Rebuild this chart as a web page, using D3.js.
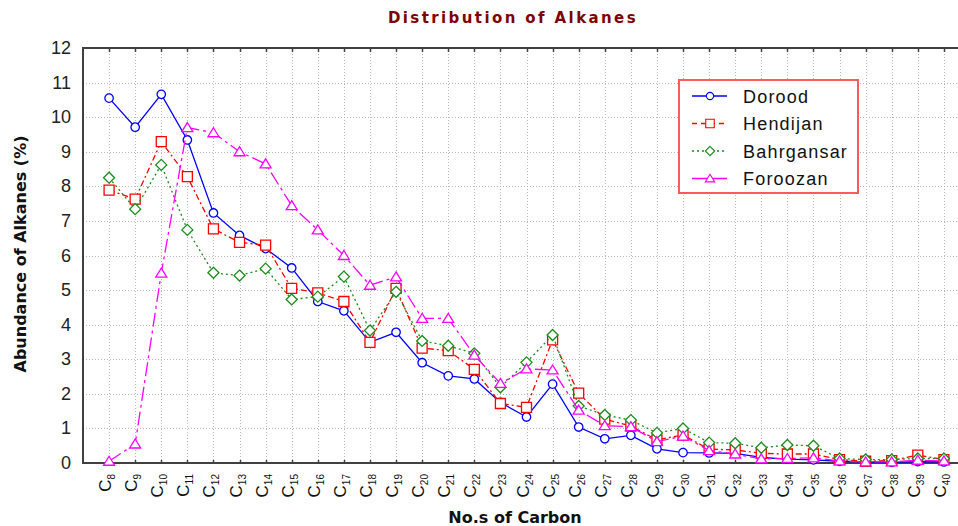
<!DOCTYPE html>
<html>
<head>
<meta charset="utf-8">
<script src="https://cdn.jsdelivr.net/npm/d3@7"></script>
<style>
  body { margin: 0; background: #fff; }
  svg { display: block; }
</style>
</head>
<body>
<div id="chart"></div>
<script>

    var carbons = [8,9,10,11,12,13,14,15,16,17,18,19,20,21,22,23,24,25,26,27,28,29,30,31,32,33,34,35,36,37,38,39,40];

    var dorood = [10.55,9.71,10.66,9.34,7.23,6.58,6.2,5.64,4.67,4.4,3.49,3.78,2.9,2.52,2.43,1.75,1.33,2.28,1.04,0.7,0.8,0.41,0.3,0.29,0.28,0.16,0.11,0.09,0.05,0.03,0.02,0.04,0.03];
    var hendijan = [7.89,7.63,9.29,8.28,6.77,6.38,6.3,5.05,4.92,4.67,3.49,5.05,3.32,3.25,2.71,1.72,1.61,3.56,2.02,1.27,1.07,0.67,0.81,0.4,0.38,0.28,0.26,0.26,0.1,0.05,0.07,0.23,0.1];
    var bahrgansar = [8.25,7.34,8.62,6.74,5.5,5.42,5.62,4.73,4.81,5.39,3.83,4.95,3.53,3.39,3.17,2.19,2.91,3.7,1.65,1.39,1.24,0.87,1.0,0.59,0.57,0.44,0.52,0.5,0.13,0.1,0.1,0.13,0.13];
    var foroozan = [0.05,0.55,5.49,9.7,9.55,9.0,8.65,7.44,6.74,6.0,5.14,5.38,4.18,4.18,3.12,2.3,2.72,2.69,1.53,1.08,1.05,0.62,0.78,0.36,0.26,0.12,0.13,0.15,0.06,0.03,0.03,0.08,0.06];

    var seriesNames = ["Dorood", "Hendijan", "Bahrgansar", "Foroozan"];
    var yTicks = [0,1,2,3,4,5,6,7,8,9,10,11,12];

    //=========================================================================
    // Set Dimensions
    //=========================================================================
    var width = 958, height = 526;
    var margin = { top: 48, left: 83, bottom: 63 };
    var plotBottom = height - margin.bottom;
    var plotRight = 970;

    var svg = d3.select("#chart")
      .append("svg")
      .attr("width", width)
      .attr("height", height)
      .style("font-family", "'Liberation Sans', Arial, sans-serif");

    svg.append("rect").attr("width", width).attr("height", height).attr("fill", "#fff");

    var x = d3.scalePoint()
      .domain(carbons)
      .range([margin.left, plotRight])
      .padding(1);

    var y = d3.scaleLinear()
      .domain([0, 12])
      .range([plotBottom, margin.top]);

    //=========================================================================
    // Grid
    //=========================================================================
    var grid = svg.append("g").attr("stroke", "#b8b8b8").attr("stroke-dasharray", "1,2");

    grid.selectAll(".hgrid")
      .data(yTicks.slice(1, -1))
      .enter().append("line")
      .attr("x1", margin.left).attr("x2", width)
      .attr("y1", function(d){ return Math.round(y(d)) + 0.5; })
      .attr("y2", function(d){ return Math.round(y(d)) + 0.5; });

    grid.selectAll(".vgrid")
      .data(carbons)
      .enter().append("line")
      .attr("x1", function(d){ return Math.round(x(d)) + 0.5; })
      .attr("x2", function(d){ return Math.round(x(d)) + 0.5; })
      .attr("y1", margin.top).attr("y2", plotBottom);

    //=========================================================================
    // Frame + ticks
    //=========================================================================
    var frame = svg.append("g").attr("stroke", "#404040").attr("stroke-width", 2);
    frame.append("line").attr("x1", margin.left).attr("x2", width).attr("y1", margin.top).attr("y2", margin.top);
    frame.append("line").attr("x1", margin.left).attr("x2", width).attr("y1", plotBottom).attr("y2", plotBottom);
    frame.append("line").attr("x1", margin.left).attr("x2", margin.left).attr("y1", margin.top - 1).attr("y2", plotBottom + 1);

    svg.append("g").attr("stroke", "#404040").attr("stroke-width", 1.5)
      .selectAll("line")
      .data(carbons)
      .enter().append("line")
      .attr("x1", function(d){ return Math.round(x(d)) + 0.5; })
      .attr("x2", function(d){ return Math.round(x(d)) + 0.5; })
      .attr("y1", margin.top).attr("y2", margin.top + 4);

    svg.append("g").attr("stroke", "#404040").attr("stroke-width", 1.5)
      .selectAll("line")
      .data(carbons)
      .enter().append("line")
      .attr("x1", function(d){ return Math.round(x(d)) + 0.5; })
      .attr("x2", function(d){ return Math.round(x(d)) + 0.5; })
      .attr("y1", plotBottom).attr("y2", plotBottom - 3);

    // y tick labels
    svg.append("g")
      .selectAll("text")
      .data(yTicks)
      .enter().append("text")
      .attr("x", 71)
      .attr("y", function(d){ return y(d) + 6; })
      .attr("text-anchor", "end")
      .attr("font-size", 18)
      .attr("fill", "#222")
      .text(function(d){ return d; });

    // x tick labels (C with subscript)
    var xl = svg.append("g")
      .selectAll("text")
      .data(carbons)
      .enter().append("text")
      .attr("transform", function(d){ return "translate(" + (x(d) + 2) + "," + (plotBottom + 11) + ") rotate(-90)"; })
      .attr("text-anchor", "end")
      .attr("font-size", 17)
      .attr("fill", "#111");
    xl.append("tspan").text("C");
    xl.append("tspan")
      .attr("font-size", 10)
      .attr("dy", 4)
      .text(function(d){ return d; });

    //=========================================================================
    // Series
    //=========================================================================
    var series = [
      { name: seriesNames[0], values: dorood, color: "#0000ff", dash: null, shape: "circle" },
      { name: seriesNames[1], values: hendijan, color: "#ff0000", dash: "6,3,2,3", shape: "square" },
      { name: seriesNames[2], values: bahrgansar, color: "#1a8c1a", dash: "2,3", shape: "diamond" },
      { name: seriesNames[3], values: foroozan, color: "#ff00ff", dash: "14,4,3,4", shape: "triangle" }
    ];

    function markerPath(shape) {
      if (shape == "circle") return d3.symbol().type(d3.symbolCircle).size(56)();
      if (shape == "square") return "M-5,-5H5V5H-5Z";
      if (shape == "diamond") return "M0,-5.5L5.5,0L0,5.5L-5.5,0Z";
      return "M0,-5L5.5,4H-5.5Z";
    }

    var line = d3.line()
      .x(function(d, i){ return x(carbons[i]); })
      .y(function(d){ return y(d); });

    series.forEach(function(s){
      svg.append("path")
        .attr("d", line(s.values))
        .attr("fill", "none")
        .attr("stroke", s.color)
        .attr("stroke-width", 1.3)
        .attr("stroke-dasharray", s.dash);

      svg.append("g")
        .selectAll("path")
        .data(s.values)
        .enter().append("path")
        .attr("transform", function(d, i){ return "translate(" + x(carbons[i]) + "," + y(d) + ")"; })
        .attr("d", markerPath(s.shape))
        .attr("fill", "#fff")
        .attr("stroke", s.color)
        .attr("stroke-width", 1.3);
    });

    //=========================================================================
    // Legend
    //=========================================================================
    var legend = svg.append("g").attr("transform", "translate(679,80)");
    legend.append("rect")
      .attr("width", 179).attr("height", 113)
      .attr("fill", "#fff")
      .attr("stroke", "#ff5a5a")
      .attr("stroke-width", 2);

    var rows = legend.selectAll(".row")
      .data(series)
      .enter().append("g")
      .attr("transform", function(d, i){ return "translate(0," + (16 + i * 27.5) + ")"; });

    rows.append("line")
      .attr("x1", 13).attr("x2", 48)
      .attr("stroke", function(d){ return d.color; })
      .attr("stroke-width", 1.3)
      .attr("stroke-dasharray", function(d){ return d.shape == "square" ? "5,4" : (d.shape == "diamond" ? "2,3" : null); });

    rows.append("path")
      .attr("transform", "translate(31,0) scale(0.85)")
      .attr("d", function(d){ return markerPath(d.shape); })
      .attr("fill", "#fff")
      .attr("stroke", function(d){ return d.color; })
      .attr("stroke-width", 1.3);

    rows.append("text")
      .attr("x", 64).attr("y", 6.5)
      .attr("font-size", 18)
      .attr("letter-spacing", 1.2)
      .attr("fill", "#111")
      .text(function(d){ return d.name; });

    //=========================================================================
    // Titles
    //=========================================================================
    svg.append("text")
      .attr("x", 513).attr("y", 23)
      .attr("text-anchor", "middle")
      .attr("font-family", "'DejaVu Sans', Verdana, sans-serif")
      .attr("font-weight", "bold")
      .attr("font-size", 15)
      .attr("letter-spacing", 2.4)
      .attr("fill", "#800000")
      .text("Distribution of Alkanes");

    svg.append("text")
      .attr("x", 515).attr("y", 523)
      .attr("text-anchor", "middle")
      .attr("font-family", "'DejaVu Sans', Verdana, sans-serif")
      .attr("font-weight", "bold")
      .attr("font-size", 16)
      .attr("fill", "#111")
      .text("No.s of Carbon");

    svg.append("text")
      .attr("transform", "translate(26,254) rotate(-90)")
      .attr("text-anchor", "middle")
      .attr("font-family", "'DejaVu Sans', Verdana, sans-serif")
      .attr("font-weight", "bold")
      .attr("font-size", 16)
      .attr("fill", "#111")
      .text("Abundance of Alkanes (%)");

</script>
</body>
</html>
